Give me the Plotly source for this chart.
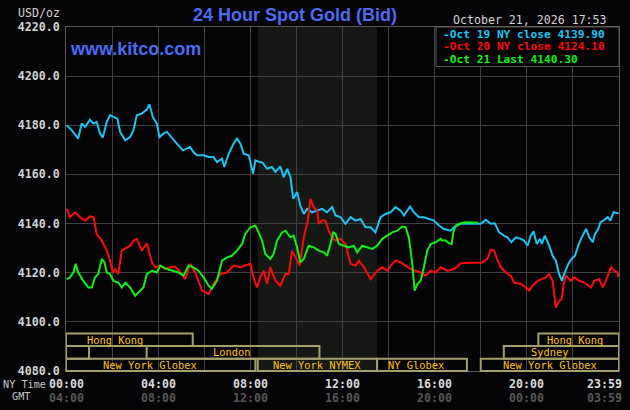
import plotly.graph_objects as go

# ---------------- data ----------------
# times in decimal hours (NY time), prices in USD/oz
oct19_t = [0.03, 0.25, 0.53, 0.68, 0.83, 1.04, 1.19, 1.33, 1.48, 1.60, 1.77, 1.91, 2.06, 2.23, 2.35, 2.57,
           2.78, 2.93, 3.07, 3.29, 3.51, 3.62, 3.77, 3.94, 4.06, 4.23, 4.38, 4.60, 4.81, 5.07, 5.25, 5.39,
           5.53, 5.68, 5.97, 6.19, 6.40, 6.55, 6.77, 6.87, 7.06, 7.27, 7.42, 7.57, 7.71, 7.93, 8.12, 8.22,
           8.43, 8.51, 8.73, 8.94, 9.09, 9.30, 9.45, 9.60, 9.74, 9.86, 10.03, 10.17, 10.32, 10.47, 10.68,
           10.90, 11.12, 11.33, 11.55, 11.70, 11.91, 12.13, 12.35, 12.57, 12.78, 13.00, 13.22, 13.43, 13.65,
           13.87, 14.09, 14.30, 14.52, 14.67, 14.93, 15.10, 15.32, 15.53, 15.75, 15.97, 16.19, 16.40, 16.70,
           16.84, 17.13, 18.00, 18.22, 18.43, 18.61, 18.80, 19.01, 19.16, 19.33, 19.52, 19.74, 19.88, 20.03,
           20.17, 20.29, 20.43, 20.58, 20.65, 20.78, 20.97, 21.12, 21.26, 21.40, 21.52, 21.65, 21.80, 21.94,
           22.09, 22.23, 22.38, 22.57, 22.71, 22.86, 22.96, 23.10, 23.19, 23.36, 23.51, 23.62, 23.77, 23.94,
           23.98]
oct19_v = [4180.0, 4178.0, 4174.6, 4180.7, 4179.3, 4182.3, 4180.7, 4181.4, 4176.6, 4175.0, 4181.4, 4184.1,
           4183.4, 4182.7, 4177.3, 4173.9, 4175.2, 4178.0, 4184.1, 4184.8, 4186.4, 4188.6, 4183.4, 4180.7,
           4175.2, 4176.6, 4177.3, 4174.6, 4172.5, 4169.8, 4170.5, 4171.2, 4169.1, 4167.8, 4167.8, 4167.1,
           4167.1, 4165.0, 4166.4, 4163.0, 4168.4, 4172.5, 4174.6, 4172.5, 4168.4, 4167.8, 4160.3, 4165.7,
           4165.0, 4165.0, 4162.3, 4163.0, 4161.0, 4163.3, 4158.9, 4162.3, 4158.9, 4150.1, 4152.8, 4147.3,
           4143.9, 4146.0, 4144.6, 4145.3, 4146.0, 4144.6, 4146.7, 4143.3, 4142.6, 4139.9, 4142.6, 4141.2,
           4141.9, 4138.5, 4138.5, 4136.4, 4142.6, 4143.9, 4144.6, 4146.7, 4145.3, 4143.3, 4146.9, 4144.6,
           4142.6, 4142.6, 4141.9, 4141.2, 4139.2, 4137.8, 4137.1, 4138.5, 4139.9, 4139.9, 4141.5, 4139.9,
           4140.1, 4136.4, 4135.1, 4134.4, 4132.4, 4134.4, 4133.8, 4133.1, 4131.0, 4135.1, 4136.9, 4131.7,
           4133.8, 4131.7, 4135.1, 4131.0, 4126.9, 4124.9, 4119.5, 4116.7, 4120.1, 4123.6, 4125.6, 4126.9,
           4131.0, 4134.4, 4137.8, 4134.4, 4132.4, 4135.8, 4137.8, 4140.5, 4141.5, 4142.6, 4141.2, 4144.6,
           4144.2, 4144.4]

oct20_t = [0.03, 0.17, 0.39, 0.61, 0.83, 1.04, 1.19, 1.33, 1.55, 1.77, 1.91, 2.03, 2.13, 2.27, 2.42, 2.57,
           2.78, 2.93, 3.07, 3.29, 3.51, 3.73, 3.87, 4.09, 4.30, 4.52, 4.74, 4.96, 5.17, 5.39, 5.61, 5.90,
           6.19, 6.40, 6.70, 6.99, 7.27, 7.57, 7.78, 8.00, 8.14, 8.29, 8.43, 8.58, 8.73, 8.87, 9.09, 9.30,
           9.52, 9.67, 9.81, 9.96, 10.14, 10.32, 10.49, 10.61, 10.75, 10.90, 10.97, 11.12, 11.26, 11.40,
           11.55, 11.70, 11.91, 12.13, 12.35, 12.57, 12.71, 12.93, 13.22, 13.51, 13.73, 13.94, 14.09, 14.30,
           14.52, 14.74, 14.96, 15.17, 15.39, 15.61, 15.83, 16.04, 16.26, 16.55, 16.70, 16.91, 17.13, 17.27,
           18.07, 18.29, 18.43, 18.58, 18.73, 18.87, 19.09, 19.30, 19.45, 19.74, 19.96, 20.10, 20.25, 20.47,
           20.68, 20.83, 20.97, 21.12, 21.19, 21.26, 21.40, 21.51, 21.60, 21.70, 21.91, 22.06, 22.27, 22.49,
           22.78, 22.93, 23.14, 23.29, 23.43, 23.65, 23.80, 23.94, 23.98]
oct20_v = [4146.0, 4142.6, 4144.6, 4142.6, 4141.2, 4142.9, 4142.6, 4135.8, 4133.1, 4129.0, 4124.9, 4120.1,
           4121.5, 4119.5, 4129.0, 4129.7, 4131.0, 4133.1, 4133.8, 4129.0, 4132.0, 4124.2, 4122.2, 4122.9,
           4121.5, 4122.2, 4122.5, 4120.1, 4117.4, 4123.6, 4120.1, 4112.7, 4111.3, 4115.4, 4119.5, 4120.1,
           4122.9, 4122.2, 4122.9, 4123.6, 4118.1, 4114.0, 4118.1, 4120.8, 4115.4, 4122.2, 4116.7, 4114.7,
           4119.5, 4119.5, 4129.0, 4126.2, 4122.9, 4134.4, 4141.2, 4150.1, 4146.7, 4145.3, 4139.9, 4141.2,
           4141.2, 4137.1, 4134.4, 4133.1, 4133.8, 4131.7, 4123.6, 4122.9, 4124.9, 4122.2, 4117.4, 4120.8,
           4122.2, 4120.8, 4122.9, 4124.9, 4124.2, 4122.9, 4121.5, 4120.8, 4120.1, 4118.8, 4120.8, 4120.1,
           4122.2, 4120.8, 4121.1, 4121.9, 4123.8, 4124.0, 4124.2, 4125.6, 4129.3, 4129.0, 4124.9, 4122.2,
           4120.1, 4118.8, 4116.0, 4115.4, 4114.0, 4112.7, 4114.7, 4116.7, 4117.4, 4118.1, 4119.5, 4116.7,
           4111.3, 4105.8, 4108.6, 4109.3, 4115.4, 4118.8, 4116.7, 4118.1, 4116.7, 4116.0, 4114.0, 4116.7,
           4117.4, 4114.0, 4116.7, 4122.2, 4120.8, 4120.1, 4118.1]

oct21_t = [0.03, 0.17, 0.32, 0.42, 0.53, 0.75, 0.97, 1.12, 1.26, 1.40, 1.55, 1.67, 1.77, 1.91, 2.06, 2.27,
           2.42, 2.57, 2.78, 3.00, 3.22, 3.36, 3.51, 3.73, 3.94, 4.09, 4.38, 4.60, 4.88, 5.10, 5.32, 5.53,
           5.75, 5.97, 6.19, 6.33, 6.55, 6.77, 6.99, 7.20, 7.42, 7.64, 7.78, 8.00, 8.22, 8.36, 8.51, 8.65,
           8.87, 9.01, 9.16, 9.38, 9.52, 9.74, 9.88, 10.03, 10.17, 10.32, 10.53, 10.75, 10.97, 11.19, 11.33,
           11.48, 11.60, 11.70, 11.84, 12.06, 12.27, 12.49, 12.64, 12.86, 13.07, 13.29, 13.51, 13.73, 13.94,
           14.16, 14.38, 14.60, 14.74, 14.88, 15.03, 15.13, 15.25, 15.39, 15.53, 15.68, 15.83, 16.04, 16.26,
           16.33, 16.48, 16.62, 16.74, 16.81, 16.91, 17.13, 17.35, 17.88]
oct21_v = [4117.4, 4118.1, 4120.1, 4123.6, 4120.1, 4116.7, 4114.0, 4114.0, 4118.1, 4119.5, 4125.6, 4124.2,
           4120.1, 4119.5, 4116.7, 4116.0, 4114.0, 4116.0, 4114.0, 4110.6, 4112.7, 4114.0, 4119.5, 4120.8,
           4120.1, 4122.9, 4121.5, 4120.8, 4120.1, 4118.8, 4122.9, 4122.2, 4120.8, 4118.1, 4114.7, 4113.4,
           4116.7, 4124.9, 4126.2, 4126.9, 4129.0, 4131.7, 4135.8, 4138.5, 4139.2, 4136.4, 4133.1, 4127.6,
           4125.6, 4127.6, 4133.1, 4136.4, 4137.1, 4134.4, 4135.1, 4130.3, 4124.2, 4125.6, 4131.0, 4130.3,
           4129.0, 4128.3, 4126.9, 4131.7, 4136.4, 4135.8, 4131.7, 4131.0, 4130.3, 4131.0, 4128.3, 4131.0,
           4130.3, 4129.7, 4131.0, 4133.8, 4135.1, 4136.4, 4137.1, 4138.8, 4138.5, 4134.4, 4123.6, 4112.7,
           4115.4, 4116.7, 4122.2, 4129.0, 4131.7, 4132.4, 4133.8, 4133.1, 4133.1, 4132.0, 4131.7, 4136.4,
           4139.2, 4140.1, 4140.5, 4140.3]

legend_labels = ["Oct 19 NY close 4139.90", "Oct 20 NY close 4124.10", "Oct 21 Last 4140.30"]
series_colors = ["#1cc4f2", "#ff0a0a", "#10f010"]

y_ticks = [4080, 4100, 4120, 4140, 4160, 4180, 4200, 4220]
ny_time_ticks = [0, 4, 8, 12, 16, 20, 23.98]
ny_time_labels = ["00:00", "04:00", "08:00", "12:00", "16:00", "20:00", "23:59"]
gmt_labels = ["04:00", "08:00", "12:00", "16:00", "20:00", "00:00", "03:59"]

# sessions: (name, start h, end h, row (0=top), label hour or None)
sessions = [
    ("Hong Kong", 0.0, 5.5, 0, 2.13),
    ("Hong Kong", 20.5, 24.0, 0, 22.1),
    ("Sydney", 0.0, 1.0, 1, None),
    ("London", 3.5, 11.0, 1, 7.2),
    ("Sydney", 19.0, 24.0, 1, 21.02),
    ("New York Globex", 0.0, 8.22, 2, 3.65),
    ("New York NYMEX", 8.32, 13.5, 2, 10.9),
    ("NY Globex", 13.5, 17.4, 2, 15.2),
    ("New York Globex", 18.0, 24.0, 2, 21.0),
]
nymex_open = (8.33, 13.5)

# ---------------- figure ----------------
BG = "#040306"
MONO = "DejaVu Sans Mono"
W, H = 630, 410
ML, MR, MT, MB = 66, 11, 27, 39
PW, PH = W - ML - MR, H - MT - MB


def px_x(p):
    return (p - ML) / PW


def px_y(p):
    return (H - MB - p) / PH


fig = go.Figure()
for t, v, c in zip([oct19_t, oct20_t, oct21_t], [oct19_v, oct20_v, oct21_v], series_colors):
    fig.add_trace(go.Scatter(x=t, y=v, mode="lines", line=dict(color=c, width=2), hoverinfo="skip"))

shapes = []
# NYMEX shaded region
shapes.append(dict(type="rect", xref="x", yref="paper", x0=nymex_open[0], x1=nymex_open[1], y0=0, y1=1,
                   fillcolor="#151815", line=dict(width=0), layer="below"))
# session boxes
row_edges = [px_y(333.5), px_y(346), px_y(358.7), px_y(371)]
annotations = []
for name, s, e, r, lab in sessions:
    shapes.append(dict(type="rect", xref="x", yref="paper", x0=s, x1=e, y0=row_edges[r + 1], y1=row_edges[r],
                       line=dict(color="#a59f6c", width=2), fillcolor="rgba(0,0,0,0)", layer="above"))
    if lab is not None:
        annotations.append(dict(x=lab, xref="x", y=(row_edges[r] + row_edges[r + 1]) / 2, yref="paper",
                                text=name, showarrow=False, xanchor="center", yanchor="middle",
                                font=dict(family=MONO, size=10.4, color="#ffc20a")))
# legend box
shapes.append(dict(type="rect", xref="paper", yref="paper", x0=px_x(436), x1=1, y0=px_y(66.5), y1=1,
                   fillcolor=BG, line=dict(color="#5a5a5a", width=1), layer="above"))
for i, (lab, c) in enumerate(zip(legend_labels, series_colors)):
    annotations.append(dict(x=px_x(441), xref="paper", y=px_y(34 + 12.7 * i), yref="paper",
                            text="<b>-" + lab + "</b>", showarrow=False, xanchor="left", yanchor="middle",
                            font=dict(family=MONO, size=11.2, color=c)))

# titles
annotations.append(dict(x=px_x(295), xref="paper", y=px_y(15), yref="paper", text="<b>24 Hour Spot Gold (Bid)</b>",
                        showarrow=False, xanchor="center", yanchor="middle",
                        font=dict(family="Liberation Sans", size=18, color="#4a6cf2")))
annotations.append(dict(x=px_x(68), xref="paper", y=px_y(49), yref="paper", text="<b>www.kitco.com</b>",
                        showarrow=False, xanchor="left", yanchor="middle",
                        font=dict(family="Liberation Sans", size=18, color="#4a6cf2")))
annotations.append(dict(x=px_x(609), xref="paper", y=px_y(20), yref="paper", text="October 21, 2026 17:53",
                        showarrow=False, xanchor="right", yanchor="middle",
                        font=dict(family=MONO, size=11.6, color="#d4d4d4")))
annotations.append(dict(x=px_x(62), xref="paper", y=px_y(13), yref="paper", text="USD/oz",
                        showarrow=False, xanchor="right", yanchor="middle",
                        font=dict(family=MONO, size=11.6, color="#d4d4d4")))
# x-axis labels
annotations.append(dict(x=px_x(1), xref="paper", y=px_y(384), yref="paper", text="NY Time",
                        showarrow=False, xanchor="left", yanchor="middle",
                        font=dict(family=MONO, size=10.2, color="#c8c8c8")))
annotations.append(dict(x=px_x(10), xref="paper", y=px_y(397), yref="paper", text="GMT",
                        showarrow=False, xanchor="left", yanchor="middle",
                        font=dict(family=MONO, size=10.2, color="#c8c8c8")))
for i, (t, a, b) in enumerate(zip(ny_time_ticks, ny_time_labels, gmt_labels)):
    last = i == len(ny_time_ticks) - 1
    xa = "right" if last else "center"
    xv = px_x(624) if last else None
    for lab, yy, col in [(a, 384, "#dcdcdc"), (b, 397.5, "#575757")]:
        d = dict(y=px_y(yy), yref="paper", text="<b>" + lab + "</b>", showarrow=False, xanchor=xa,
                 yanchor="middle", font=dict(family=MONO, size=11.6, color=col))
        if last:
            d.update(x=xv, xref="paper")
        else:
            d.update(x=t, xref="x")
        annotations.append(d)

fig.update_layout(
    width=W, height=H, margin=dict(l=ML, r=MR, t=MT, b=MB, pad=0),
    paper_bgcolor=BG, plot_bgcolor=BG, showlegend=False,
    shapes=shapes, annotations=annotations,
    xaxis=dict(range=[0, 24], tick0=0, dtick=2, showgrid=True, gridcolor="#414141", gridwidth=1,
               showticklabels=False, zeroline=False, showline=True, linecolor="#5a5a5a", mirror=True,
               ticks=""),
    yaxis=dict(range=[4080, 4220], tickvals=y_ticks, ticktext=["<b>%.1f</b>" % v for v in y_ticks],
               showgrid=True, gridcolor="#414141", gridwidth=1, zeroline=False, showline=True,
               linecolor="#5a5a5a", mirror=True, ticks="", ticklabelstandoff=3,
               tickfont=dict(family=MONO, size=11.6, color="#d4d4d4")),
)
fig.write_html("out.html")
